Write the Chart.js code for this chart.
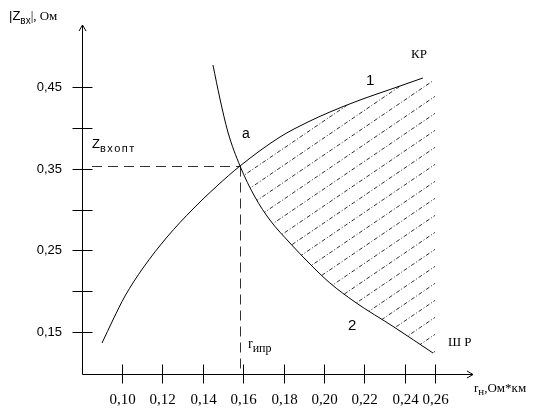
<!DOCTYPE html>
<html>
<head>
<meta charset="utf-8">
<script src="https://cdn.jsdelivr.net/npm/chart.js@4.4.1/dist/chart.umd.min.js"></script>
<style>
  html, body { margin: 0; padding: 0; background: #fff; }
</style>
</head>
<body>
<canvas id="chart" width="536" height="409"></canvas>
<script>
// curve 1 - |Zвх| of the line, rising (КР)
var curve1X = [0.0901, 0.0955, 0.1015, 0.1104, 0.1223, 0.1351, 0.1470, 0.1584, 0.1782, 0.1920, 0.2029, 0.2178, 0.2326, 0.2489];
var curve1Y = [0.1365, 0.1647, 0.1941, 0.2284, 0.2663, 0.3006, 0.3288, 0.3533, 0.3888, 0.4071, 0.4194, 0.4341, 0.4469, 0.4610];

// curve 2 - falling (ШР)
var curve2X = [0.1450, 0.1485, 0.1524, 0.1584, 0.1658, 0.1732, 0.1831, 0.1930, 0.2029, 0.2153, 0.2346, 0.2539];
var curve2Y = [0.4769, 0.4353, 0.3949, 0.3533, 0.3153, 0.2871, 0.2590, 0.2333, 0.2100, 0.1867, 0.1561, 0.1243];

// point a (optimum)
var optX = 0.1584;
var optY = 0.3533;

var xTickValues = [0.10, 0.12, 0.14, 0.16, 0.18, 0.20, 0.22, 0.24, 0.255];
var xTickLabels = ['0,10', '0,12', '0,14', '0,16', '0,18', '0,20', '0,22', '0,24', '0,26'];
var yTickValues = [0.15, 0.20, 0.25, 0.30, 0.35, 0.40, 0.45];
var yTickLabels = ['0,15', '', '0,25', '', '0,35', '', '0,45'];

var xMin = 0.0802, xMax = 0.2737;
var yMin = 0.0986, yMax = 0.5259;
var hatchRight = 0.2550;

function toPoints(xs, ys) {
    return xs.map(function (x, i) { return { x: x, y: ys[i] }; });
}

function subText(ctx, x, y, base, sub, baseFont, subFont, dy, spacing) {
    ctx.font = baseFont;
    ctx.fillText(base, x, y);
    var w = ctx.measureText(base).width;
    ctx.font = subFont;
    if (spacing) ctx.letterSpacing = spacing;
    ctx.fillText(sub, x + w, y + dy);
    var w2 = ctx.measureText(sub).width;
    ctx.letterSpacing = '0px';
    return x + w + w2;
}

var hatchPlugin = {
    id: 'hatch',
    beforeDatasetsDraw: function (chart) {
        var ctx = chart.ctx;
        var xs = chart.scales.x, ys = chart.scales.y;
        var px = function (v) { return xs.getPixelForValue(v); };
        var py = function (v) { return ys.getPixelForValue(v); };

        ctx.save();
        ctx.beginPath();
        ctx.moveTo(px(optX), py(optY));
        curve1X.forEach(function (x, i) {
            if (x > optX) ctx.lineTo(px(x), py(curve1Y[i]));
        });
        ctx.lineTo(px(hatchRight), py(curve1Y[curve1Y.length - 1]) + 4);
        ctx.lineTo(px(hatchRight), py(curve2Y[curve2Y.length - 1]));
        for (var i = curve2X.length - 1; i >= 0; i--) {
            if (curve2X[i] > optX) ctx.lineTo(px(curve2X[i]), py(curve2Y[i]));
        }
        ctx.closePath();
        ctx.clip();

        // slanted dashed hatching
        var k = 0.68, step = 17;
        var left = px(optX), right = px(hatchRight);
        var top = py(yMax), bottom = py(yMin);
        ctx.strokeStyle = '#333';
        ctx.lineWidth = 1;
        ctx.setLineDash([4, 2, 1, 2]);
        for (var c = top + k * left; c < bottom + k * right; c += step) {
            ctx.beginPath();
            ctx.moveTo(left, c - k * left);
            ctx.lineTo(right, c - k * right);
            ctx.stroke();
        }
        ctx.restore();

        // dashed guides to point a
        ctx.save();
        ctx.strokeStyle = '#333';
        ctx.lineWidth = 1;
        ctx.setLineDash([10, 6]);
        var ax = Math.round(px(optX)) + 0.5, ay = Math.round(py(optY)) + 0.5;
        ctx.beginPath();
        ctx.moveTo(px(xMin) + 10, ay);
        ctx.lineTo(ax, ay);
        ctx.moveTo(ax, ay);
        ctx.lineTo(ax, py(yMin));
        ctx.stroke();
        ctx.restore();
    }
};

var axesPlugin = {
    id: 'axes',
    afterDraw: function (chart) {
        var ctx = chart.ctx;
        var xs = chart.scales.x, ys = chart.scales.y;
        var ox = Math.round(xs.getPixelForValue(xMin)) + 0.5;
        var oy = Math.round(ys.getPixelForValue(yMin)) + 0.5;
        var xEnd = xs.getPixelForValue(xMax);
        var yEnd = ys.getPixelForValue(yMax);

        ctx.save();
        ctx.strokeStyle = '#000';
        ctx.fillStyle = '#000';
        ctx.lineWidth = 1;
        ctx.beginPath();
        ctx.moveTo(ox, oy);
        ctx.lineTo(ox, yEnd);
        ctx.moveTo(ox, oy);
        ctx.lineTo(xEnd, oy);
        // arrows
        ctx.moveTo(ox - 3.5, yEnd + 6);
        ctx.lineTo(ox, yEnd);
        ctx.lineTo(ox + 3.5, yEnd + 6);
        ctx.moveTo(xEnd - 6, oy - 3.5);
        ctx.lineTo(xEnd, oy);
        ctx.lineTo(xEnd - 6, oy + 3.5);
        ctx.stroke();

        // y ticks
        ctx.textAlign = 'right';
        ctx.textBaseline = 'middle';
        ctx.font = "13px 'Liberation Sans'";
        yTickValues.forEach(function (v, i) {
            var y = Math.round(ys.getPixelForValue(v)) + 0.5;
            ctx.beginPath();
            ctx.moveTo(ox - 10, y);
            ctx.lineTo(ox + 10, y);
            ctx.stroke();
            if (yTickLabels[i]) ctx.fillText(yTickLabels[i], 62, y);
        });

        // x ticks
        ctx.textAlign = 'center';
        ctx.textBaseline = 'alphabetic';
        ctx.font = "15px 'Liberation Serif'";
        xTickValues.forEach(function (v, i) {
            var x = Math.round(xs.getPixelForValue(v)) + 0.5;
            ctx.beginPath();
            ctx.moveTo(x, oy - 10);
            ctx.lineTo(x, oy + 9);
            ctx.stroke();
            ctx.fillText(xTickLabels[i], x, 404);
        });

        // axis titles
        ctx.textAlign = 'left';
        var e = subText(ctx, 9, 20, '|Z', 'вх', "13px 'Liberation Sans'", "10px 'Liberation Sans'", 4);
        ctx.font = "13px 'Liberation Serif'";
        ctx.fillText('|, Ом', e, 20);

        e = subText(ctx, 474, 392, 'r', 'н', "13px 'Liberation Serif'", "11px 'Liberation Serif'", 3);
        ctx.font = "13px 'Liberation Serif'";
        ctx.fillText(',Ом*км', e, 392);

        // annotations
        subText(ctx, 92, 148, 'Z', 'вхопт', "13px 'Liberation Sans'", "11px 'Liberation Sans'", 4, '1.5px');
        subText(ctx, 248, 348, 'r', 'ипр', "14px 'Liberation Serif'", "12px 'Liberation Serif'", 4);

        ctx.font = "14px 'Liberation Sans'";
        ctx.fillText('a', 242, 138);
        ctx.font = "15px 'Liberation Sans'";
        ctx.fillText('1', 366, 85);
        ctx.fillText('2', 348, 330);
        ctx.font = "13px 'Liberation Serif'";
        ctx.fillText('КР', 411, 58);
        ctx.fillText('Ш Р', 448, 346);
        ctx.restore();
    }
};

var ctx = document.getElementById('chart');
var myChart = new Chart(ctx, {
    type: 'scatter',
    data: {
        datasets: [{
            label: '1',
            data: toPoints(curve1X, curve1Y),
            showLine: true,
            borderColor: '#000',
            borderWidth: 1,
            pointRadius: 0,
            cubicInterpolationMode: 'monotone',
        }, {
            label: '2',
            data: toPoints(curve2X, curve2Y),
            showLine: true,
            borderColor: '#000',
            borderWidth: 1,
            pointRadius: 0,
            cubicInterpolationMode: 'monotone',
        }]
    },
    plugins: [hatchPlugin, axesPlugin],
    options: {
        responsive: false,
        animation: false,
        layout: {
            padding: { left: 82, right: 63, top: 25, bottom: 35 }
        },
        plugins: {
            legend: { display: false },
            tooltip: { enabled: false }
        },
        scales: {
            x: { type: 'linear', min: xMin, max: xMax, display: false },
            y: { type: 'linear', min: yMin, max: yMax, display: false }
        }
    }
});
</script>
</body>
</html>
